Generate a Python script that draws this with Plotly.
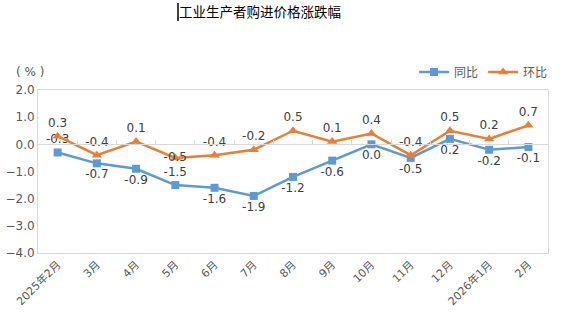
import plotly.graph_objects as go

months = ["2025年2月", "3月", "4月", "5月", "6月", "7月", "8月", "9月",
          "10月", "11月", "12月", "2026年1月", "2月"]
yoy = [-0.3, -0.7, -0.9, -1.5, -1.6, -1.9, -1.2, -0.6, 0.0, -0.5, 0.2, -0.2, -0.1]
mom = [0.3, -0.4, 0.1, -0.5, -0.4, -0.2, 0.5, 0.1, 0.4, -0.4, 0.5, 0.2, 0.7]

yoy_pos = ["top center", "bottom center", "bottom center", "top center", "bottom center",
           "bottom center", "bottom center", "bottom center", "bottom center",
           "bottom center", "bottom center", "bottom center", "bottom center"]
mom_pos = ["top center", "top center", "top center", "middle center", "top center",
           "top center", "top center", "top center", "top center", "top center",
           "top center", "top center", "top center"]

BLUE = "#5B9BD5"
ORANGE = "#ED7D31"
FONT = "DejaVu Sans, Noto Sans CJK SC"

fig = go.Figure()

fig.add_trace(go.Scatter(
    x=months, y=yoy, name="同比", mode="lines+markers+text",
    line=dict(color=BLUE, width=2.5),
    marker=dict(symbol="square", size=8, color=BLUE),
    text=[f"{v:.1f}" for v in yoy], textposition=yoy_pos,
    textfont=dict(size=12, color="#404040", family=FONT),
))
fig.add_trace(go.Scatter(
    x=months, y=mom, name="环比", mode="lines+markers+text",
    line=dict(color=ORANGE, width=2.5),
    marker=dict(symbol="triangle-up", size=9, color=ORANGE),
    text=[f"{v:.1f}" for v in mom], textposition=mom_pos,
    textfont=dict(size=12, color="#404040", family=FONT),
))
# invisible trace to carry the zero-line axis with category ticks
fig.add_trace(go.Scatter(x=months, y=[0] * len(months), xaxis="x2", mode="lines",
                         line=dict(width=0), showlegend=False, hoverinfo="skip"))

fig.update_layout(
    width=561, height=319,
    margin=dict(l=38, r=13, t=90, b=66, autoexpand=False),
    paper_bgcolor="white", plot_bgcolor="white",
    font=dict(family=FONT, color="#595959"),
    title=dict(text="工业生产者购进价格涨跌幅", x=260 / 561, xref="container", xanchor="center",
               y=1 - 12 / 319, yanchor="middle",
               font=dict(size=13.5, color="black", family="Noto Sans CJK SC")),
    legend=dict(orientation="h", x=1.01, xanchor="right", y=1.11, yanchor="middle",
                font=dict(size=12, color="#595959", family="Noto Sans CJK SC"),
                bgcolor="rgba(0,0,0,0)", itemwidth=30),
    showlegend=True,
    xaxis=dict(type="category", categoryarray=months, range=[-0.5, 12.5],
               showline=True, linecolor="#D9D9D9", linewidth=1, mirror=True,
               showgrid=False, ticks="", tickangle=-45, automargin=False,
               tickfont=dict(size=11, color="#595959")),
    xaxis2=dict(type="category", categoryarray=months, range=[-0.5, 12.5],
                overlaying="x", anchor="free", position=4 / 6,
                showline=True, linecolor="#D9D9D9", linewidth=1,
                ticks="inside", ticklen=4, tickcolor="#D9D9D9", tickson="boundaries",
                showticklabels=False, showgrid=False, automargin=False),
    yaxis=dict(range=[-4, 2], dtick=1, tickformat=".1f", showgrid=False, zeroline=False,
               showline=True, linecolor="#D9D9D9", linewidth=1, mirror=True,
               automargin=False, tickfont=dict(size=12, color="#595959")),
)

fig.add_annotation(text="( % )", xref="paper", yref="paper", x=(14 - 38) / 510, y=1.11,
                   xanchor="left", yanchor="middle", showarrow=False,
                   font=dict(size=12, color="#595959"))
# text cursor mark left of the title
fig.add_shape(type="line", xref="paper", yref="paper",
              x0=(178 - 38) / 510, x1=(178 - 38) / 510,
              y0=1 + (90 - 3) / 163, y1=1 + (90 - 21) / 163,
              line=dict(color="black", width=1.5))

fig.write_html("out.html", config={"displayModeBar": False},
               post_script="document.body.style.margin='0';")
